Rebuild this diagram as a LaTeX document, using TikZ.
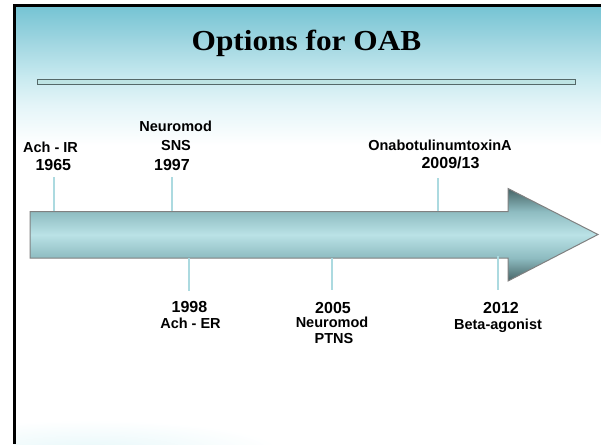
\documentclass[tikz,border=0pt]{standalone}
\usepackage{fontspec}
\setmainfont{Liberation Serif}
\newfontfamily\labelfont{Liberation Sans}

% slide background
\definecolor{bgA}{RGB}{116,195,211}
\definecolor{bgB}{RGB}{158,213,224}
\definecolor{bgC}{RGB}{198,233,239}
\definecolor{bgD}{RGB}{228,245,248}
\definecolor{glow}{RGB}{232,248,250}
% title rule
\definecolor{barfill}{RGB}{190,228,228}
\definecolor{baredge}{RGB}{85,105,105}
% timeline arrow and ticks
\definecolor{arDark}{RGB}{70,100,102}
\definecolor{arMid}{RGB}{142,188,193}
\definecolor{arLight}{RGB}{186,226,230}
\definecolor{arEdge}{RGB}{128,128,128}
\definecolor{tickc}{RGB}{172,218,224}

\pgfdeclareverticalshading{arrowshade}{100bp}{color(0bp)=(arDark); color(25bp)=(arDark); color(37.5bp)=(arMid); color(50bp)=(arLight); color(62.5bp)=(arMid); color(75bp)=(arDark); color(100bp)=(arDark)}

\tikzset{
  lbl/.style={font=\labelfont\bfseries\fontsize{14.5}{17}\selectfont, inner sep=0pt, anchor=base},
  yr/.style={font=\labelfont\bfseries\fontsize{16}{19}\selectfont, inner sep=0pt, anchor=base},
  tick/.style={draw=tickc, line width=1.6pt},
}

\begin{document}
\begin{tikzpicture}[x=1pt,y=-1pt]
\useasboundingbox (0,0) rectangle (601,444);
\fill[white] (0,0) rectangle (601,444);

% background bands fading from teal to white
\shade[top color=bgA, bottom color=bgB] (14,5) rectangle (601,40.5);
\shade[top color=bgB, bottom color=bgC] (14,40) rectangle (601,75.5);
\shade[top color=bgC, bottom color=bgD] (14,75) rectangle (601,105.5);
\shade[top color=bgD, bottom color=white] (14,105) rectangle (601,145);

% faint glow along the lower left edge
\begin{scope}
  \clip (14,420) rectangle (601,444);
  \shade[inner color=glow, outer color=white] (90,450) ellipse [x radius=190, y radius=30];
\end{scope}

% slide frame
\draw[line width=2.6pt] (14.5,444) -- (14.5,5.8) -- (601,5.8);

% title and rule
\node[inner sep=0pt, anchor=base] (title) at (306.5,51)
  {\bfseries\fontsize{29}{34}\selectfont\scalebox{1.08}[1]{Options for OAB}};
\draw[baredge, fill=barfill, line width=0.8pt] (37.5,79.5) rectangle (575,84);

% timeline arrow
\shadedraw[shading=arrowshade, draw=arEdge, line width=1pt]
  (30,211.5) -- (508,211.5) -- (508,188.5) -- (598,234.5)
  -- (508,281) -- (508,258) -- (30,258) -- cycle;

% tick anchors
\coordinate (t1a) at (54,211);  \coordinate (t1b) at (54,177);
\coordinate (t2a) at (172,211); \coordinate (t2b) at (172,177);
\coordinate (t3a) at (438,211); \coordinate (t3b) at (438,178);
\coordinate (b1a) at (189,258); \coordinate (b1b) at (189,291);
\coordinate (b2a) at (332,258); \coordinate (b2b) at (332,290);
\coordinate (b3a) at (498,256); \coordinate (b3b) at (498,290);

\draw[tick] (t1a) -- (t1b);
\draw[tick] (t2a) -- (t2b);
\draw[tick] (t3a) -- (t3b);
\draw[tick] (b1a) -- (b1b);
\draw[tick] (b2a) -- (b2b);
\draw[tick] (b3a) -- (b3b);

% labels above the arrow
\node[lbl] (achir) at (50.5,152) {Ach - IR};
\node[yr]  (y1965) at (53.3,170) {1965};
\node[lbl] (nmsns) at (175.7,131) {Neuromod};
\node[lbl] (sns)   at (176,150) {SNS};
\node[yr]  (y1997) at (172,170) {1997};
\node[lbl] (ona)   at (440,150) {OnabotulinumtoxinA};
\node[yr]  (y2009) at (450.5,168) {2009/13};

% labels below the arrow
\node[yr]  (y1998) at (189.5,312) {1998};
\node[lbl] (acher) at (190.5,328) {Ach - ER};
\node[yr]  (y2005) at (333,313) {2005};
\node[lbl] (nmptns) at (332,327) {Neuromod};
\node[lbl] (ptns)  at (334,343) {PTNS};
\node[yr]  (y2012) at (501,313) {2012};
\node[lbl] (beta)  at (498,329) {Beta-agonist};
\end{tikzpicture}
\end{document}
